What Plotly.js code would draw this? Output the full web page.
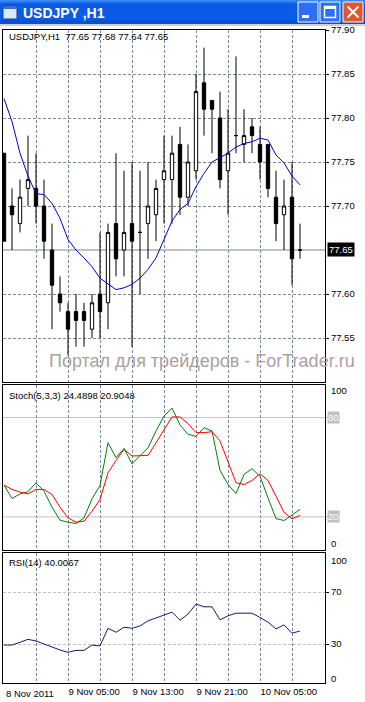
<!DOCTYPE html>
<html><head><meta charset="utf-8">
<script src="https://cdn.plot.ly/plotly-3.0.1.min.js"></script>
<style>html,body{margin:0;padding:0;background:#fff;overflow:hidden}#chart{width:365px;height:702px}</style>
</head><body><div id="chart"></div>
<script>
// ---- data ----
const times = ['2011-11-08 21:00','2011-11-08 22:00','2011-11-08 23:00','2011-11-09 00:00','2011-11-09 01:00','2011-11-09 02:00','2011-11-09 03:00','2011-11-09 04:00','2011-11-09 05:00','2011-11-09 06:00','2011-11-09 07:00','2011-11-09 08:00','2011-11-09 09:00','2011-11-09 10:00','2011-11-09 11:00','2011-11-09 12:00','2011-11-09 13:00','2011-11-09 14:00','2011-11-09 15:00','2011-11-09 16:00','2011-11-09 17:00','2011-11-09 18:00','2011-11-09 19:00','2011-11-09 20:00','2011-11-09 21:00','2011-11-09 22:00','2011-11-09 23:00','2011-11-10 00:00','2011-11-10 01:00','2011-11-10 02:00','2011-11-10 03:00','2011-11-10 04:00','2011-11-10 05:00','2011-11-10 06:00','2011-11-10 07:00','2011-11-10 08:00','2011-11-10 09:00','2011-11-10 10:00'];
const open  = [77.76,77.70,77.68,77.72,77.72,77.70,77.65,77.60,77.58,77.58,77.58,77.56,77.60,77.59,77.68,77.65,77.68,77.67,77.68,77.69,77.73,77.73,77.77,77.71,77.74,77.84,77.82,77.80,77.74,77.78,77.77,77.79,77.77,77.77,77.71,77.69,77.71,77.65];
const high  = [77.76,77.72,77.73,77.78,77.76,77.73,77.68,77.62,77.59,77.60,77.59,77.60,77.67,77.68,77.76,77.74,77.75,77.74,77.75,77.73,77.78,77.78,77.79,77.77,77.85,77.88,77.82,77.83,77.81,77.87,77.81,77.80,77.79,77.77,77.74,77.73,77.75,77.68];
const low   = [77.66,77.65,77.67,77.70,77.68,77.64,77.56,77.58,77.53,77.54,77.54,77.55,77.55,77.56,77.62,77.62,77.54,77.60,77.64,77.66,77.68,77.68,77.69,77.70,77.73,77.78,77.76,77.72,77.69,77.76,77.75,77.76,77.73,77.71,77.66,77.65,77.61,77.64];
const close = [77.66,77.69,77.71,77.73,77.70,77.66,77.61,77.59,77.56,77.57,77.57,77.59,77.58,77.67,77.64,77.67,77.66,77.67,77.70,77.72,77.74,77.76,77.71,77.75,77.83,77.81,77.81,77.73,77.76,77.78,77.78,77.78,77.75,77.72,77.68,77.70,77.64,77.65];
const ma    = [77.822,77.796,77.760,77.734,77.714,77.713,77.703,77.686,77.662,77.650,77.641,77.631,77.618,77.611,77.605,77.607,77.611,77.618,77.628,77.641,77.661,77.683,77.696,77.703,77.722,77.737,77.750,77.755,77.760,77.767,77.771,77.773,77.777,77.775,77.758,77.749,77.734,77.724];
const stochK = [39.2,31.1,33.9,35.2,40.6,35.6,25.9,18.0,16.8,16.0,19.4,30.9,39.0,64.8,55.8,61.4,52.1,57.2,61.8,71.9,81.0,85.7,75.6,69.9,68.7,73.9,71.9,48.1,39.6,34.1,45.7,49.1,44.6,31.5,19.0,17.8,21.0,24.5];
const stochD = [39.2,36.6,35.0,33.9,36.6,36.6,33.5,25.9,19.4,16.8,17.4,23.4,30.5,46.7,54.1,60.8,56.8,57.2,57.2,64.8,72.9,80.4,80.4,76.4,70.9,70.9,71.5,65.9,53.3,40.6,39.6,42.0,46.1,42.0,32.5,22.8,18.8,20.9];
const rsi = [29.2,29.2,31.3,33.6,32.3,30.0,27.2,25.4,23.6,25.1,25.1,29.2,28.5,42.1,39.0,42.9,42.1,43.9,47.8,49.9,51.9,54.5,48.3,53.0,60.7,58.6,58.6,48.6,51.7,53.7,53.7,53.7,50.4,46.8,41.6,44.7,38.3,40.0];
const priceTicks = [77.55,77.60,77.65,77.70,77.75,77.80,77.85,77.90];
const gridTimes  = ['2011-11-09 01:00','2011-11-09 05:00','2011-11-09 09:00','2011-11-09 13:00','2011-11-09 17:00','2011-11-09 21:00','2011-11-10 01:00','2011-11-10 05:00','2011-11-10 09:00'];
const gridLabels = ['','9 Nov 05:00','','9 Nov 13:00','','9 Nov 21:00','','10 Nov 05:00',''];
const firstLabel = '8 Nov 2011';
const stochLevels = [20,80];
const rsiLevels = [30,70];
const symbol = 'USDJPY,H1';
const windowTitle = 'USDJPY ,H1';
const stochTitle = 'Stoch(5,3,3) 24.4898 20.9048';
const rsiTitle = 'RSI(14) 40.0067';
const watermark = 'Портал для трейдеров - ForTrader.ru';

// ---- helpers ----
const W = 365, H = 702;
const px = x => x / W;
const py = y => 1 - y / H;
const FONT = 'Liberation Sans, Arial, sans-serif';
const GRID = '#778899';
const DASH = '3px,2px';
function shiftTime(s, hours) {
  const d = new Date(s.replace(' ', 'T') + ':00Z');
  return new Date(d.getTime() + hours * 3600000).toISOString().slice(0, 19).replace('T', ' ');
}
const xRange = [shiftTime(times[0], -0.125), shiftTime(times[times.length - 1], 3.125)];
const last = close.length - 1;

const xCommon = {
  type: 'date', range: xRange, domain: [px(3), px(325)],
  showline: true, mirror: true, linecolor: '#000', linewidth: 1,
  tickmode: 'array', tickvals: gridTimes, showgrid: true, gridcolor: GRID, gridwidth: 1, griddash: DASH,
  zeroline: false, showticklabels: false, ticks: '', fixedrange: true
};
const yCommon = {
  side: 'right', showline: true, mirror: true, linecolor: '#000', linewidth: 1,
  zeroline: false, fixedrange: true, tickfont: {family: FONT, size: 9.5, color: '#000'}
};

const traces = [
  {type: 'candlestick', x: times, open: open, high: high, low: low, close: close,
   xaxis: 'x', yaxis: 'y', whiskerwidth: 0, hoverinfo: 'skip',
   increasing: {line: {color: '#000', width: 1}, fillcolor: '#fff'},
   decreasing: {line: {color: '#000', width: 1}, fillcolor: '#000'}},
  {type: 'scatter', mode: 'lines', x: times, y: ma, xaxis: 'x', yaxis: 'y',
   line: {color: '#0000cd', width: 1}, hoverinfo: 'skip'},
  {type: 'scatter', mode: 'lines', x: times, y: stochK, xaxis: 'x2', yaxis: 'y2',
   line: {color: '#008000', width: 1}, hoverinfo: 'skip'},
  {type: 'scatter', mode: 'lines', x: times, y: stochD, xaxis: 'x2', yaxis: 'y2',
   line: {color: '#ff0000', width: 1}, hoverinfo: 'skip'},
  {type: 'scatter', mode: 'lines', x: times, y: rsi, xaxis: 'x3', yaxis: 'y3',
   line: {color: '#191970', width: 1}, hoverinfo: 'skip'}
];

const shapes = [];
// title bar strips
[[0,1,'#3d8cf6'],[1,3,'#2a78f0'],[3,20,'#0a5ce6'],[20,24,'#0850d6']].forEach(s => {
  shapes.push({type:'rect', xref:'paper', yref:'paper', x0:px(0), x1:px(365), y0:py(s[1]), y1:py(s[0]), fillcolor:s[2], line:{width:0}, layer:'above'});
});
shapes.push({type:'rect', xref:'paper', yref:'paper', x0:px(0), x1:px(365), y0:py(26), y1:py(24), fillcolor:'#d4d0c8', line:{width:0}, layer:'above'});
// icon
shapes.push({type:'rect', xref:'paper', yref:'paper', x0:px(3), x1:px(17), y0:py(19), y1:py(6), fillcolor:'#dce8fb', line:{color:'#1a3f8f', width:1}, layer:'above'});
shapes.push({type:'rect', xref:'paper', yref:'paper', x0:px(3), x1:px(17), y0:py(9), y1:py(6), fillcolor:'#3a6fd0', line:{width:0}, layer:'above'});
// buttons
shapes.push({type:'rect', xref:'paper', yref:'paper', x0:px(298), x1:px(318), y0:py(22), y1:py(2), fillcolor:'#2d6ff2', line:{color:'#fff', width:1}, layer:'above'});
shapes.push({type:'rect', xref:'paper', yref:'paper', x0:px(302), x1:px(309), y0:py(18), y1:py(15), fillcolor:'#fff', line:{width:0}, layer:'above'});
shapes.push({type:'rect', xref:'paper', yref:'paper', x0:px(320), x1:px(340), y0:py(22), y1:py(2), fillcolor:'#2d6ff2', line:{color:'#fff', width:1}, layer:'above'});
shapes.push({type:'rect', xref:'paper', yref:'paper', x0:px(324.5), x1:px(335.5), y0:py(17.5), y1:py(6.5), fillcolor:'rgba(0,0,0,0)', line:{color:'#fff', width:1.5}, layer:'above'});
shapes.push({type:'rect', xref:'paper', yref:'paper', x0:px(324.5), x1:px(335.5), y0:py(9), y1:py(6.5), fillcolor:'#fff', line:{width:0}, layer:'above'});
shapes.push({type:'rect', xref:'paper', yref:'paper', x0:px(343), x1:px(363), y0:py(22), y1:py(2), fillcolor:'#e2562e', line:{color:'#fff', width:1}, layer:'above'});
shapes.push({type:'line', xref:'paper', yref:'paper', x0:px(347.5), x1:px(358.5), y0:py(6.5), y1:py(17.5), line:{color:'#fff', width:2}, layer:'above'});
shapes.push({type:'line', xref:'paper', yref:'paper', x0:px(358.5), x1:px(347.5), y0:py(6.5), y1:py(17.5), line:{color:'#fff', width:2}, layer:'above'});
// bid line
shapes.push({type:'line', xref:'x domain', yref:'y', x0:0, x1:1, y0:close[last], y1:close[last], line:{color:GRID, width:1}, layer:'below'});
// stoch levels
stochLevels.forEach(v => shapes.push({type:'line', xref:'x2 domain', yref:'y2', x0:0, x1:1, y0:v, y1:v, line:{color:'#c0c0c0', width:1}, layer:'below'}));

const ann = [];
const txt = (x, y, text, extra) => Object.assign({xref:'paper', yref:'paper', x:px(x), y:py(y), text:text, showarrow:false, xanchor:'left', yanchor:'middle', font:{family:FONT, size:9.5, color:'#000'}}, extra || {});
ann.push(txt(21, 12.5, '<b>' + windowTitle + '</b>', {font:{family:'Liberation Sans Narrow, Liberation Sans, Arial', size:14, color:'#fff'}}));
ann.push(txt(7, 37, symbol + '\u00a0\u00a0' + [open[last], high[last], low[last], close[last]].map(v => v.toFixed(2)).join(' ')));
ann.push(txt(7, 395, stochTitle));
ann.push(txt(7, 562, rsiTitle));
ann.push({xref:'paper', yref:'paper', x:px(201.5), y:py(361), text:watermark, showarrow:false, xanchor:'center', yanchor:'middle', font:{family:FONT, size:18, color:'#aba0a0'}});
ann.push({xref:'paper', yref:'y', x:px(327), y:close[last], text:close[last].toFixed(2), showarrow:false, xanchor:'left', yanchor:'middle', bgcolor:'#000', borderpad:1, font:{family:FONT, size:9.5, color:'#fff'}});
ann.push(txt(329, 391, '100'));
ann.push(txt(329, 543, '0'));
stochLevels.forEach(v => ann.push({xref:'paper', yref:'y2', x:px(326.5), y:v, text:String(v), showarrow:false, xanchor:'left', yanchor:'middle', bgcolor:'#c0c0c0', borderpad:0, font:{family:FONT, size:9.5, color:'#fff'}}));
ann.push(txt(329, 560, '100'));
ann.push(txt(329, 678, '0'));
ann.push({xref:'x3', yref:'paper', x:times[0], y:py(693), text:firstLabel, showarrow:false, xanchor:'left', yanchor:'middle', font:{family:FONT, size:9.5, color:'#000'}});

const layout = {
  width: W, height: H, margin: {l:0, r:0, t:0, b:0, pad:0},
  paper_bgcolor: '#fff', plot_bgcolor: '#fff', showlegend: false,
  font: {family: FONT, size: 9.5, color: '#000'},
  boxgap: 0.4,
  xaxis:  Object.assign({}, xCommon, {anchor:'y', rangeslider:{visible:false}}),
  xaxis2: Object.assign({}, xCommon, {anchor:'y2'}),
  xaxis3: Object.assign({}, xCommon, {anchor:'y3', ticktext: gridLabels, showticklabels: true,
            ticklabelposition: 'outside right', tickfont:{family:FONT, size:9.5, color:'#000'}}),
  yaxis:  Object.assign({}, yCommon, {anchor:'x', domain:[py(381.5), py(30)], range:[77.90 - 351.5/880, 77.90],
            tickmode:'array', tickvals: priceTicks.filter(p => Math.abs(p - close[last]) > 1e-6),
            ticktext: priceTicks.filter(p => Math.abs(p - close[last]) > 1e-6).map(p => p.toFixed(2)),
            ticks:'outside', ticklen:3, tickcolor:'#000', showgrid:true, gridcolor:GRID, griddash:DASH}),
  yaxis2: Object.assign({}, yCommon, {anchor:'x2', domain:[py(550), py(384.5)], range:[0,100],
            tickmode:'array', tickvals: stochLevels, showticklabels:false, ticks:'outside', ticklen:3, tickcolor:'#c0c0c0', showgrid:false}),
  yaxis3: Object.assign({}, yCommon, {anchor:'x3', domain:[py(683), py(553)], range:[0,100],
            tickmode:'array', tickvals: rsiLevels, ticktext: rsiLevels.map(String), ticks:'outside', ticklen:3, tickcolor:'#000',
            showgrid:true, gridcolor:'#c0c0c0', griddash:DASH}),
  shapes: shapes,
  annotations: ann
};

Plotly.newPlot('chart', traces, layout, {staticPlot:true, displayModeBar:false});
</script>
</body></html>
